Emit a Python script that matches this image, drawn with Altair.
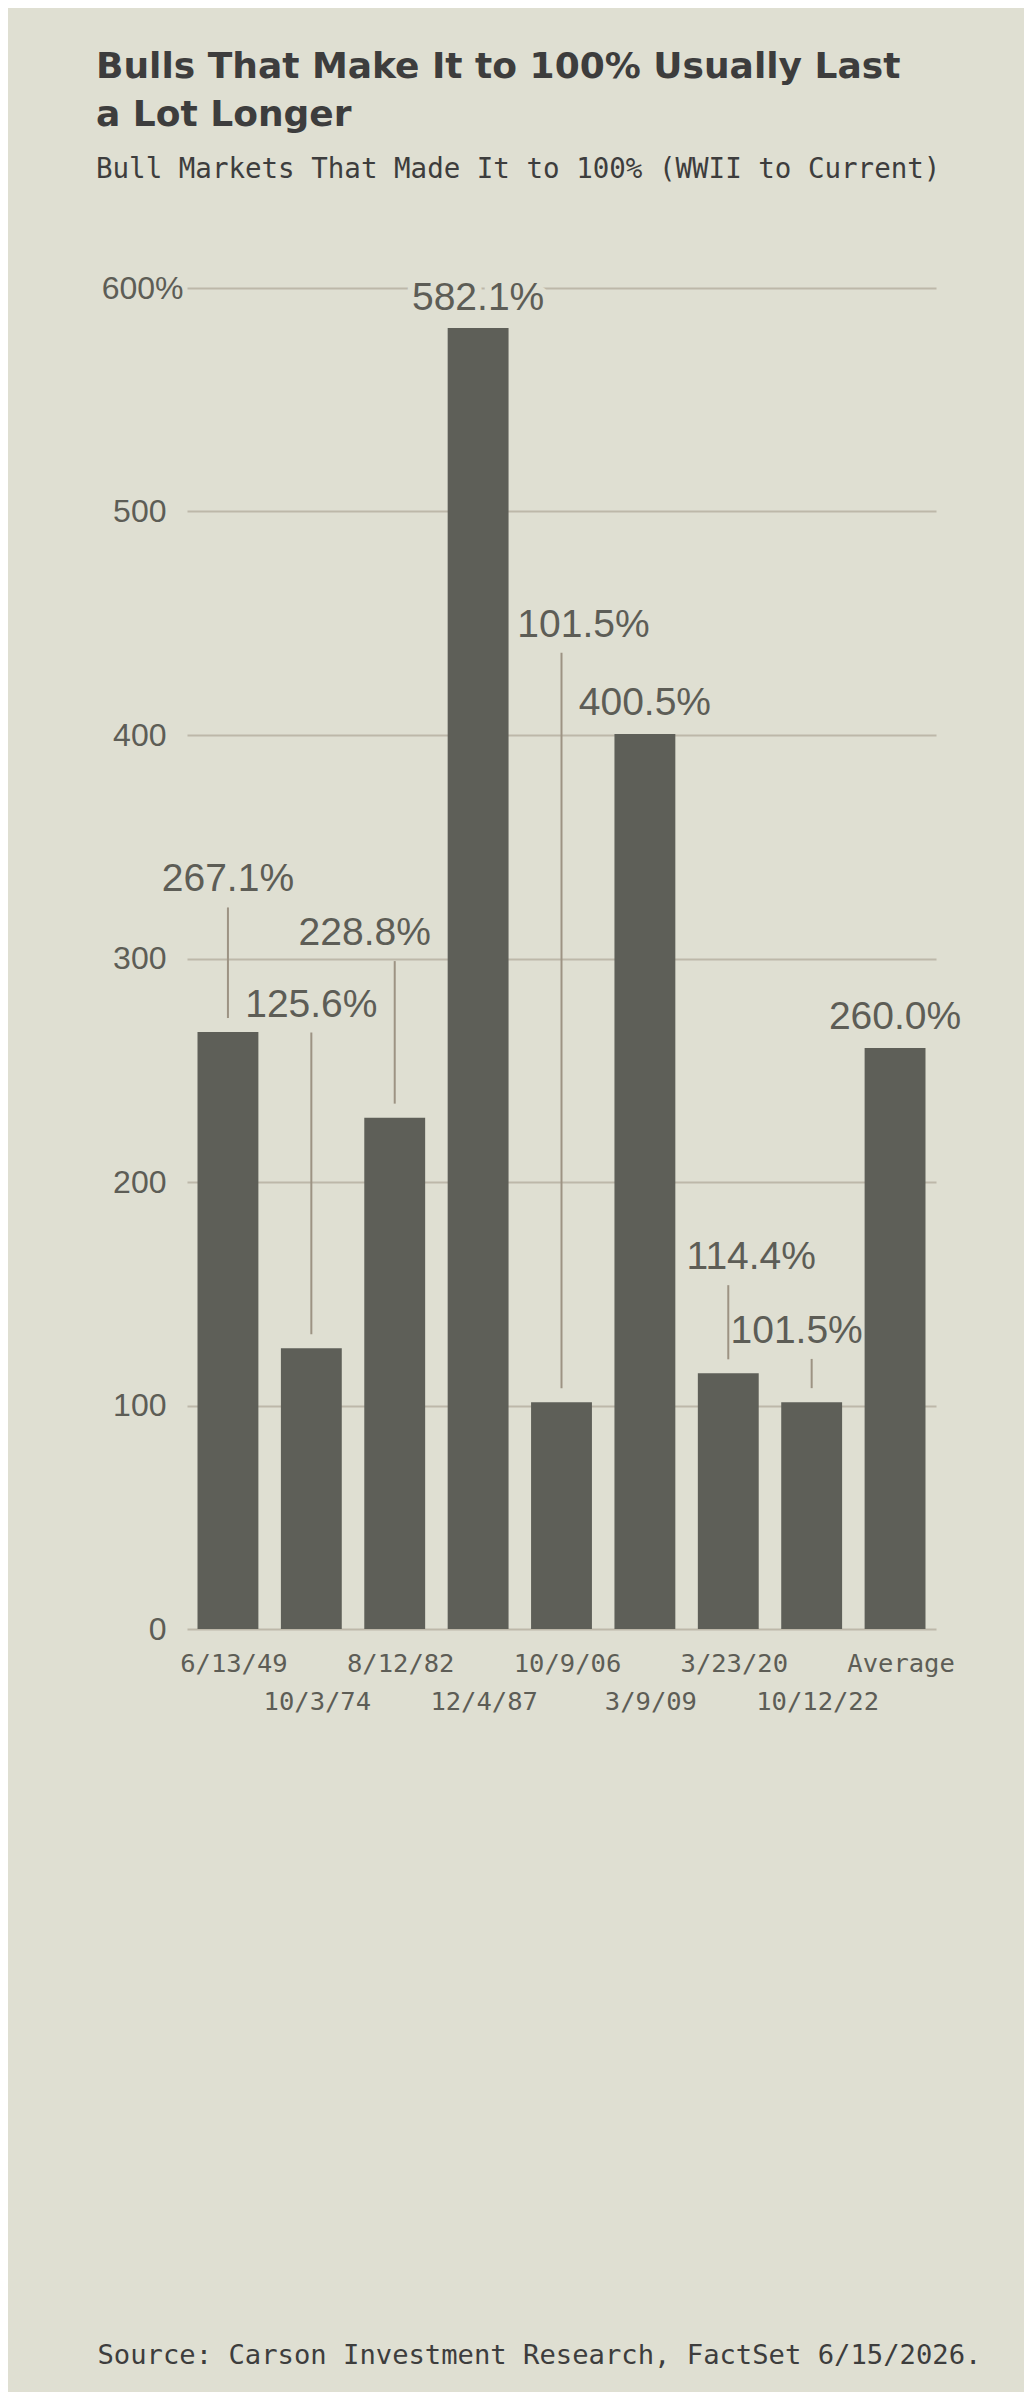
import json
import altair as alt
import pandas as pd

# ---------------- data ----------------
dates = ["6/13/49", "10/3/74", "8/12/82", "12/4/87", "10/9/06",
         "3/9/09", "3/23/20", "10/12/22", "Average"]
gains = [267.1, 125.6, 228.8, 582.1, 101.5, 400.5, 114.4, 101.5, 260.0]
y_ticks = [0, 100, 200, 300, 400, 500, 600]

# annotation layout (label height in data units, horizontal nudge in px)
label_level = [330, 274, 306, 590, 444, 409, 161, 128, 268.5]
label_dx = [0, 0, -30, 0, 22, 0, 23, -15, 0]
has_leader = [True, True, True, False, True, False, True, True, False]

title_lines = ["Bulls That Make It to 100% Usually Last", "a Lot Longer"]
subtitle = "Bull Markets That Made It to 100% (WWII to Current)"
source = "Source: Carson Investment Research, FactSet 6/15/2026."

# ---------------- style ----------------
BG = "#dfdfd2"
BAR = "#5e5f58"
GRID = "#bdb8a9"
LEADER = "#9d9383"
TXT = "#3d3d3d"
AX = "#5d5d56"
SANS = "Liberation Sans"
MONO = "DejaVu Sans Mono"

y_max = y_ticks[-1]
second_row = dates[1::2]

df = pd.DataFrame({
    "date": dates,
    "gain": gains,
    "label": [f"{v:.1f}%" for v in gains],
    "level": label_level,
    "dx": label_dx,
    "leader": has_leader,
})

xaxis = alt.Axis(
    title=source, titleX=-90, titleY=734, titleAlign="left", titleAnchor="start",
    titleBaseline="alphabetic", titleFont=MONO, titleFontSize=27.2,
    titleFontWeight="normal", titleColor=TXT,
    labelAngle=0, labelFont=MONO, labelFontSize=25.5, labelColor=AX,
    labelBaseline="alphabetic", labelOverlap=False, labelOffset=6,
    labelPadding={"condition": {"test": "indexof(%s, datum.value) >= 0" % json.dumps(second_row),
                                "value": 80}, "value": 42},
    domain=False, ticks=False, tickSize=0, grid=False,
)
yaxis = alt.Axis(
    values=y_ticks, title=None, domain=False, ticks=False, tickSize=0,
    grid=True, gridColor=GRID, gridWidth=2,
    labelFont=SANS, labelFontSize=32, labelColor=AX,
    labelAlign="right", labelBaseline="middle",
    labelPadding={"condition": {"test": f"datum.value == {y_max}", "value": 4}, "value": 21},
    labelExpr=f"datum.value == {y_max} ? datum.label + '%' : datum.label",
)

xscale = alt.Scale(paddingInner=0.27, paddingOuter=0.126)
yscale = alt.Scale(domain=[0, y_max], nice=False)


def X():
    return alt.X("date:N", sort=dates, scale=xscale, axis=xaxis)


def Y(field):
    return alt.Y(field, scale=yscale, axis=yaxis)


base = alt.Chart(df)

bars = base.mark_bar(color=BAR).encode(x=X(), y=Y("gain:Q"))

# background box behind the tallest bar's label, which sits on the top gridline
halo = (
    base.transform_filter(alt.datum.gain == max(gains))
    .mark_text(font=SANS, fontSize=39, align="center", baseline="alphabetic",
               stroke=BG, strokeWidth=14, strokeJoin="round", fill=BG)
    .encode(x=X(), y=Y("level:Q"), text="label:N")
)

text_layers = []
for d in sorted(set(label_dx)):
    sub = base.transform_filter(alt.datum.dx == d)
    text_layers.append(
        sub.mark_text(font=SANS, fontSize=39, align="center", baseline="alphabetic",
                      dx=d, color=AX)
        .encode(x=X(), y=Y("level:Q"), text="label:N")
    )

leaders = (
    base.transform_filter(alt.datum.leader == True)
    .mark_rule(color=LEADER, strokeWidth=2, yOffset=16, y2Offset=-14)
    .encode(x=X(), y=Y("level:Q"), y2="gain:Q")
)

chart = (
    alt.layer(bars, halo, leaders, *text_layers)
    .properties(
        width=749, height=1341,
        autosize="none",
        padding={"left": 179, "top": 280, "right": 88, "bottom": 763},
        background=BG,
        title=alt.TitleParams(
            text=title_lines, subtitle=subtitle, anchor="start", frame="group",
            dx=-91, offset=88, font="DejaVu Sans", fontSize=36, fontWeight="bold",
            color=TXT, lineHeight=48,
            subtitleFont=MONO, subtitleFontSize=27.5, subtitleColor=TXT,
            subtitlePadding=22,
        ),
    )
    .configure_view(stroke=None)
)

chart.save("out.html", embed_options={"renderer": "svg", "actions": False})
